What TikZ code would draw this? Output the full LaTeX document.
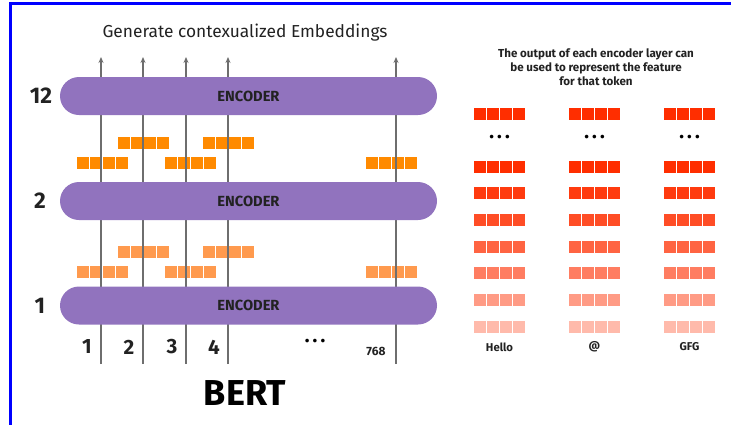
\documentclass[tikz,border=0pt]{standalone}
\usepackage{fontspec}
\setmainfont{Fira Sans}
\usetikzlibrary{arrows.meta,shapes.misc}
\definecolor{cPUR}{HTML}{9173BE}
\definecolor{cORG}{HTML}{FF8A00}
\definecolor{cORL}{HTML}{FF9A4E}
\definecolor{cRED}{HTML}{FF2E00}
\definecolor{cTXT}{HTML}{222222}
\definecolor{cWIR}{HTML}{6E6E6E}
% one token vector: four small squares, top-left corner at (#1,#2)
\newcommand{\tokvec}[3]{\foreach \k in {0,...,3} {\fill[#3] ({#1+13*\k},#2) rectangle ++(12,12);}}

\begin{document}
\begin{tikzpicture}[x=0.75pt, y=-0.75pt, >={Stealth[length=4.5pt,width=3.8pt]},
  enc/.style={rounded rectangle, fill=cPUR, minimum width=282.75pt, minimum height=28.5pt, inner sep=0pt,
    font=\fontsize{11}{12}\selectfont\bfseries, text=cTXT},
  wire/.style={cWIR, line width=0.8pt},
  lay/.style={font=\fontsize{17}{19}\selectfont\bfseries, text=cTXT},
  idx/.style={font=\fontsize{15.5}{17}\selectfont\bfseries, text=cTXT},
  tok/.style={font=\fontsize{8.5}{10}\selectfont\bfseries, text=cTXT},
  dots/.style={font=\fontsize{12}{12}\selectfont, text=black}]
\useasboundingbox (0,0) rectangle (731,425);
\draw[blue, line width=1.9pt] (731,3.5) -- (10.5,3.5) -- (10.5,425);

\node[font=\fontsize{13}{15}\selectfont, text=cTXT] (title) at (245,33) {Generate contexualized Embeddings};

% hidden states between the layers
\foreach \y/\c in {137/cORG, 246/cORL} {
  \tokvec{118}{\y}{\c} \tokvec{203}{\y}{\c}
  \tokvec{77}{\y+20}{\c} \tokvec{165}{\y+20}{\c} \tokvec{366}{\y+20}{\c}
}

% token columns
\foreach \cx [count=\i] in {101,143,186,228,396} {
  \coordinate (b\i) at (\cx,364);
  \coordinate (t\i) at (\cx,57);
  \draw[wire,->] (b\i) -- (t\i);
}

\node[enc] (enc12) at (248.5,96) {ENCODER};
\node[enc] (enc2) at (248.5,201) {ENCODER};
\node[enc] (enc1) at (248.5,305.5) {ENCODER};
\node[lay] (l12) at (41,96) {12};
\node[lay] (l2) at (40,201) {2};
\node[lay] (l1) at (40,305.5) {1};

\node[idx] (n1) at (87,347) {1};
\node[idx] (n2) at (129,347) {2};
\node[idx] (n3) at (172,347) {3};
\node[idx] (n4) at (214,347) {4};
\node[dots] (ndots) at (315,343) {\textbullet\,\textbullet\,\textbullet};
\node[font=\fontsize{9}{10}\selectfont\bfseries, text=cTXT] (n768) at (376,351) {768};
\node[font=\fontsize{27}{30}\selectfont\bfseries, text=black] (bert) at (245,393) {BERT};

% per-layer features of each token
\node[tok, align=center, font=\fontsize{8.7}{10.5}\selectfont\bfseries] (note) at (596,67)
  {The output of each encoder layer can\\ be used to represent the feature\\ for that token};
\foreach \cx/\w [count=\j] in {474/Hello, 569/@, 664/GFG} {
  \tokvec{\cx}{108}{cRED}
  \node[dots] (d\j) at (\cx+25.5,139) {\textbullet\,\textbullet\,\textbullet};
  \foreach \y/\p in {161/100, 187/94, 214/85, 241/74, 267/62, 294/48, 321/33} {
    \tokvec{\cx}{\y}{cRED!\p}
  }
  \node[tok] (w\j) at (\cx+25.5,347) {\w};
}
\end{tikzpicture}
\end{document}
